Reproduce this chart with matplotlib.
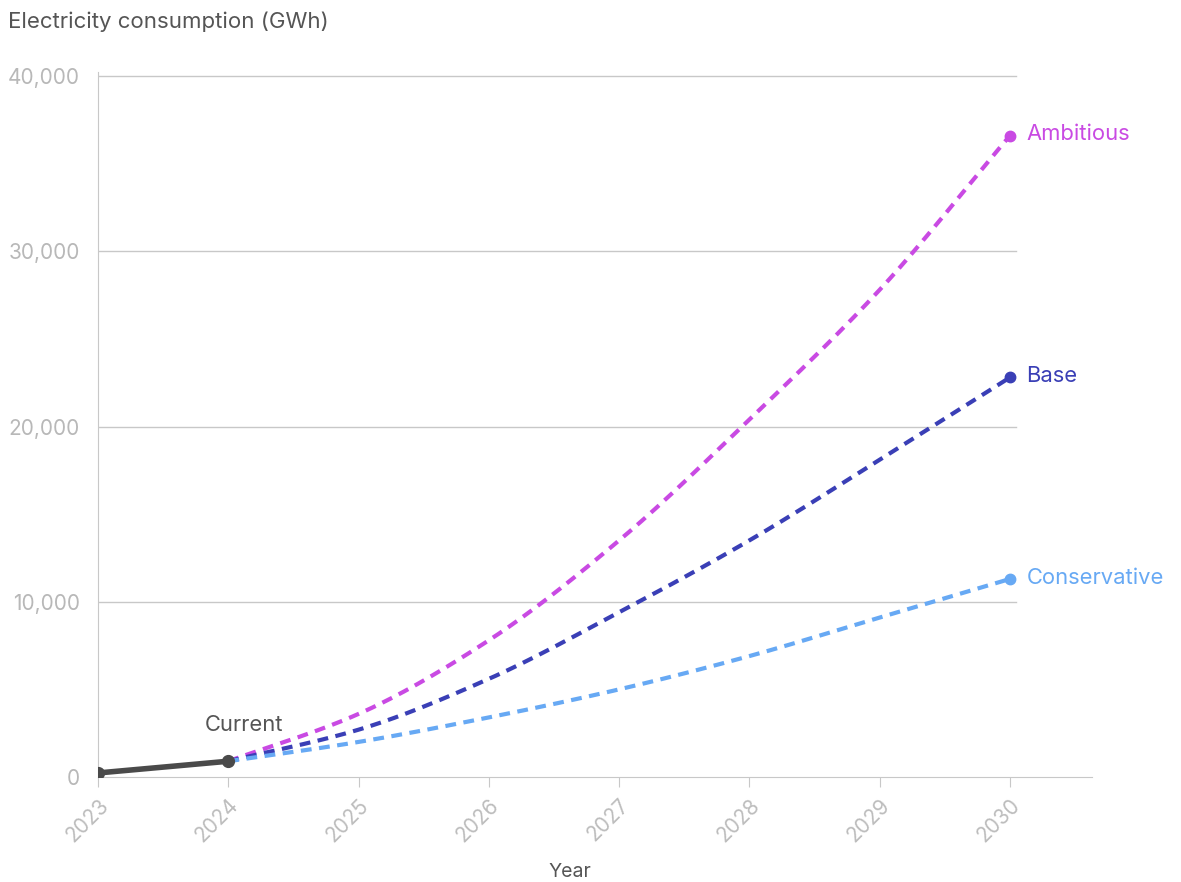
import numpy as np
import matplotlib
matplotlib.use("Agg")
import matplotlib.pyplot as plt

plt.rcParams['font.family'] = ['Inter', 'DejaVu Sans']

years_current = [2023, 2024]
current = [230, 900]

years_proj = [2024, 2025, 2026, 2027, 2028, 2029, 2030]
ambitious = [900, 3600, 7800, 13500, 20400, 27800, 36600]
base = [900, 2700, 5600, 9400, 13500, 18100, 22800]
conservative = [900, 2000, 3400, 5000, 6900, 9100, 11300]

scenarios = [
    ("Ambitious", ambitious, "#c94ae3"),
    ("Base", base, "#3a3fb6"),
    ("Conservative", conservative, "#67a9f4"),
]


def monotone(x, y, n=40):
    # monotone cubic (Fritsch-Carlson) for smooth drawing between points
    x = np.asarray(x, float)
    y = np.asarray(y, float)
    h = np.diff(x)
    d = np.diff(y) / h
    m = np.zeros_like(y)
    m[0], m[-1] = d[0], d[-1]
    for i in range(1, len(y) - 1):
        if d[i - 1] * d[i] <= 0:
            m[i] = 0
        else:
            w1 = 2 * h[i] + h[i - 1]
            w2 = h[i] + 2 * h[i - 1]
            m[i] = (w1 + w2) / (w1 / d[i - 1] + w2 / d[i])
    xs, ys = [], []
    for i in range(len(h)):
        t = np.linspace(0, 1, n, endpoint=(i == len(h) - 1))
        h00 = 2 * t**3 - 3 * t**2 + 1
        h10 = t**3 - 2 * t**2 + t
        h01 = -2 * t**3 + 3 * t**2
        h11 = t**3 - t**2
        xs.append(x[i] + t * h[i])
        ys.append(h00 * y[i] + h10 * h[i] * m[i] + h01 * y[i + 1] + h11 * h[i] * m[i + 1])
    return np.concatenate(xs), np.concatenate(ys)


fig = plt.figure(figsize=(11.81, 8.82), dpi=100)
ax = fig.add_axes([98 / 1181, 105 / 882, (1092 - 98) / 1181, (777 - 72) / 882])
ax.set_xlim(2023, 2030.63)
ax.set_ylim(0, 40230)

grid_c = "#c8c8c8"
for v in [10000, 20000, 30000, 40000]:
    ax.plot([2023, 2030.05], [v, v], color=grid_c, lw=1, zorder=1)

for s in ["top", "right"]:
    ax.spines[s].set_visible(False)
ax.spines["left"].set_color(grid_c)
ax.spines["bottom"].set_color(grid_c)

ax.set_xticks(range(2023, 2031))
ax.set_yticks([0, 10000, 20000, 30000, 40000])
ax.set_yticklabels(["0", "10,000", "20,000", "30,000", "40,000"])
ax.tick_params(axis="y", length=0, pad=13, labelsize=15, labelcolor="#b8b8b8")
ax.tick_params(axis="x", length=7, color=grid_c, pad=6, labelsize=15, labelcolor="#bdbdbd")
for lab in ax.get_xticklabels():
    lab.set_rotation(45)
    lab.set_ha("right")
    lab.set_va("top")
    lab.set_rotation_mode("anchor")

for name, vals, col in scenarios:
    xs, ys = monotone(years_proj, vals)
    ax.plot(xs, ys, color=col, lw=3, dashes=(2.6, 1.8), dash_capstyle="butt", zorder=3)
    ax.plot(years_proj[-1], vals[-1], "o", color=col, ms=7.5, zorder=4)
    ax.annotate(name, (years_proj[-1], vals[-1]), xytext=(12, 1), textcoords="offset points",
                color=col, fontsize=15.8, va="center", ha="left")

xs, ys = monotone(years_current, current)
ax.plot(xs, ys, color="#4a4a4a", lw=4, solid_capstyle="round", zorder=5)
ax.plot(years_current, current, "o", color="#4a4a4a", ms=8.5, zorder=6)
ax.annotate("Current", (years_current[-1], current[-1]), xytext=(11, 19), textcoords="offset points",
            color="#555555", fontsize=15.8, ha="center", va="bottom")

fig.text(8 / 1181, 1 - 22 / 882, "Electricity consumption (GWh)", fontsize=16, color="#555555",
         ha="left", va="center")
fig.text(570 / 1181, 1 - 872 / 882, "Year", fontsize=14, color="#555555", ha="center", va="center")

fig.savefig("out.png", dpi=100)
